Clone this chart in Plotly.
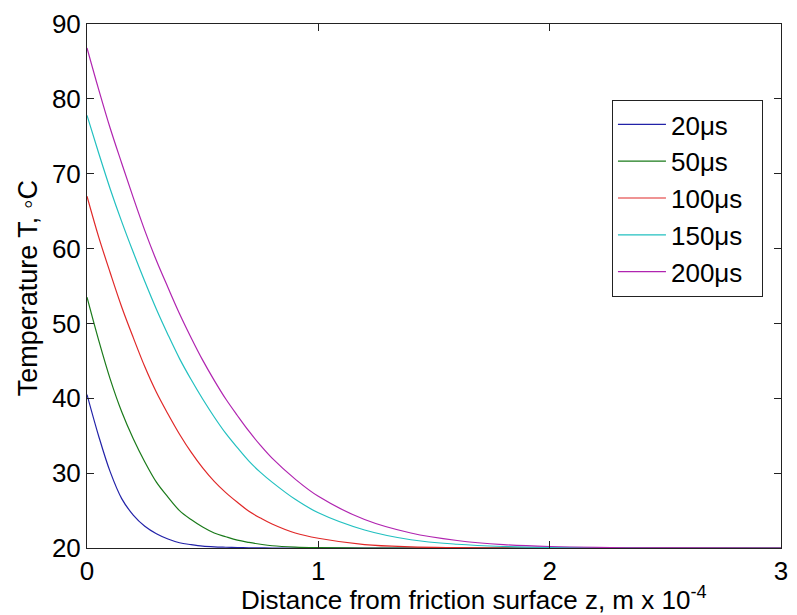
import plotly.graph_objects as go

# distance from friction surface, m x 1e-4
z = [0, 0.05, 0.1, 0.15, 0.2, 0.25, 0.3, 0.35, 0.4, 0.45, 0.5, 0.55, 0.6, 0.65, 0.7, 0.75,
     0.8, 0.9, 1.0, 1.2, 1.4, 1.6, 1.8, 2.0, 2.5, 3.0]

t20 = [40.5, 35.0, 30.2, 26.6, 24.4, 22.9, 21.9, 21.2, 20.7, 20.45, 20.25, 20.15, 20.1, 20.06,
       20.03, 20.02, 20.0, 20.0, 20.0, 20.0, 20.0, 20.0, 20.0, 20.0, 20.0, 20.0]
t50 = [53.5, 47.8, 42.6, 38.2, 34.6, 31.5, 28.8, 26.8, 25.0, 23.8, 22.8, 22.0, 21.5, 21.05,
       20.75, 20.5, 20.3, 20.12, 20.05, 20.0, 20.0, 20.0, 20.0, 20.0, 20.0, 20.0]
t100 = [67.0, 61.6, 56.8, 52.2, 48.1, 44.2, 40.8, 37.9, 35.2, 32.8, 30.7, 28.9, 27.4, 26.1,
        24.9, 24.0, 23.2, 22.0, 21.3, 20.45, 20.15, 20.05, 20.0, 20.0, 20.0, 20.0]
t150 = [77.8, 72.8, 68.0, 63.6, 59.5, 55.6, 51.9, 48.5, 45.3, 42.5, 39.9, 37.5, 35.3, 33.4,
        31.6, 30.1, 28.8, 26.5, 24.7, 22.4, 21.1, 20.5, 20.2, 20.08, 20.0, 20.0]
t200 = [86.8, 81.3, 76.1, 71.4, 66.8, 62.4, 58.4, 54.8, 51.3, 48.1, 45.1, 42.4, 39.9, 37.7,
        35.6, 33.7, 32.0, 29.2, 26.9, 23.8, 22.0, 21.0, 20.45, 20.2, 20.01, 20.0]

series_names = ["20μs", "50μs", "100μs", "150μs", "200μs"]
series_vals = [t20, t50, t100, t150, t200]
colors = ["#2222a8", "#1a7a1a", "#e02828", "#22c0c0", "#b024b0"]

x_ticks = [0, 1, 2, 3]
y_ticks = [20, 30, 40, 50, 60, 70, 80, 90]

FONT = "Arial, Liberation Sans, sans-serif"
PAD = "\u00a0\u00a0"

fig = go.Figure()
for name, vals, c in zip(series_names, series_vals, colors):
    fig.add_trace(go.Scatter(x=z, y=vals, mode="lines", name=name + PAD,
                             line=dict(color=c, width=1.2, shape="spline", smoothing=1.0)))

axis_common = dict(showline=True, linecolor="#222", linewidth=1, mirror="ticks",
                   ticks="inside", ticklen=7, tickcolor="#222", showgrid=False,
                   zeroline=False, tickfont=dict(family=FONT, size=26, color="#000"))

fig.update_xaxes(range=[0, 3], tickvals=x_ticks, **axis_common)
fig.update_yaxes(range=[20, 90], tickvals=y_ticks, **axis_common)

fig.update_layout(
    width=797, height=615,
    margin=dict(l=87, r=9, t=17, b=67),
    paper_bgcolor="white", plot_bgcolor="white",
    font=dict(family=FONT, size=26, color="#000"),
    showlegend=True,
    legend=dict(x=0.974, y=0.855, xanchor="right", yanchor="top",
                bordercolor="#222", borderwidth=1, bgcolor="white",
                font=dict(family=FONT, size=26, color="#000"),
                itemwidth=48, tracegroupgap=0),
    annotations=[
        dict(text="Distance from friction surface z, m x 10<sup>-4</sup>",
             xref="paper", yref="paper", x=0.558, y=-0.096, xanchor="center",
             yanchor="middle", showarrow=False, font=dict(family=FONT, size=26)),
        dict(text="Temperature T, ◦C", xref="paper", yref="paper",
             x=-0.0856, y=0.495, xanchor="center", yanchor="middle", textangle=-90,
             showarrow=False, font=dict(family=FONT, size=27)),
    ],
)

fig.write_html("out.html")
